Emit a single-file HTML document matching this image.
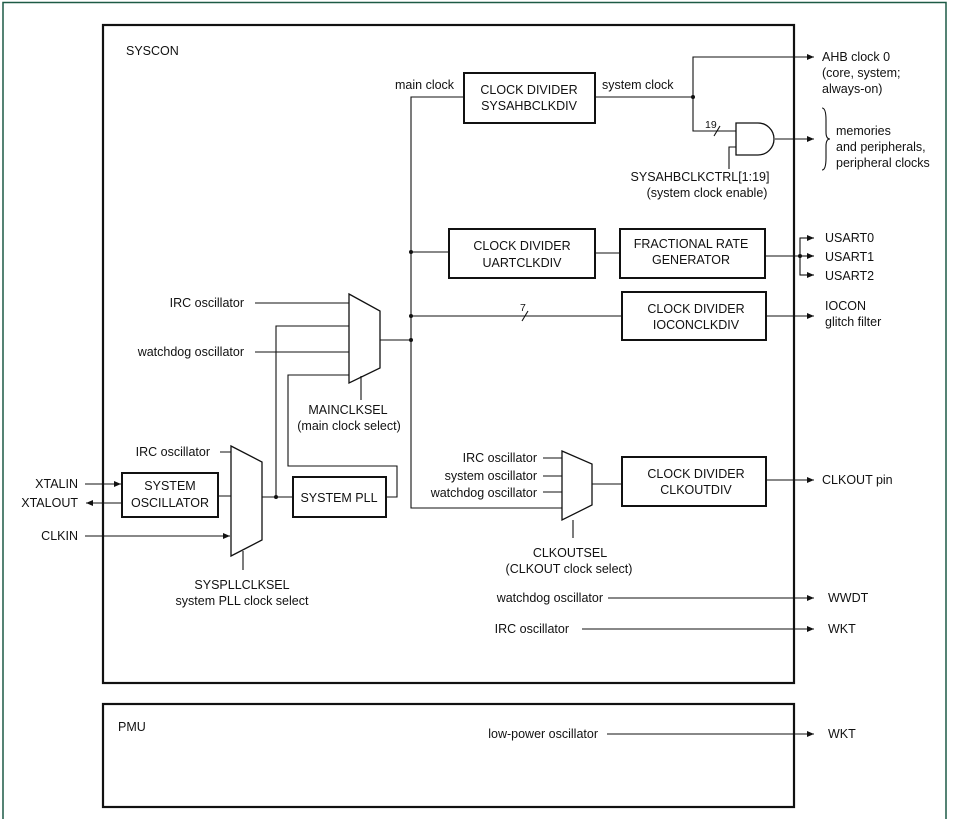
<!DOCTYPE html>
<html><head><meta charset="utf-8"><style>
html,body{margin:0;padding:0;background:#fff;}
svg{display:block;}
text{font-family:"Liberation Sans",Arial,sans-serif;font-size:12.5px;fill:#111;}
</style></head><body>
<svg width="953" height="819" viewBox="0 0 953 819" xmlns="http://www.w3.org/2000/svg">
<defs><marker id="a" markerWidth="8" markerHeight="8" refX="7" refY="3" orient="auto" markerUnits="userSpaceOnUse"><path d="M0,0 L7,3 L0,6 z" fill="#111"/></marker></defs>
<path d="M3,819 V2.5 H946 V819" fill="none" stroke="#1d5a46" stroke-width="1.5"/>
<g fill="none" stroke="#111">
<rect x="103" y="25" width="691" height="658" stroke-width="2.2"/>
<rect x="103" y="704" width="691" height="103" stroke-width="2.2"/>
<g stroke-width="2">
<rect x="464" y="73" width="131" height="50"/>
<rect x="449" y="229" width="146" height="49"/>
<rect x="620" y="229" width="145" height="49"/>
<rect x="622" y="292" width="144" height="48"/>
<rect x="622" y="457" width="144" height="49"/>
<rect x="293" y="477" width="93" height="40"/>
<rect x="122" y="473" width="96" height="44"/>
</g>
<g stroke-width="1.3">
<path d="M349,294 L380,311 L380,368 L349,383 Z"/>
<path d="M231,446 L262,462 L262,540 L231,556 Z"/>
<path d="M562,451 L592,464 L592,505 L562,520 Z"/>
<path d="M736,123 H758 A16,16 0 0 1 758,155 H736 Z"/>
</g>
<g stroke-width="1.1">
<path d="M464,97 H411 V508 H562"/>
<path d="M595,97 H693 V57 H814" marker-end="url(#a)"/>
<path d="M693,97 V131 H736"/>
<path d="M714,136 L720,126"/>
<path d="M775,139 H814" marker-end="url(#a)"/>
<path d="M736,147 H729 V169"/>
<path d="M411,252 H449 M595,253 H620"/>
<path d="M765,256 H800"/>
<path d="M814,238 H800 V275 H814" />
<path d="M800,238 H814" marker-end="url(#a)"/>
<path d="M800,256 H814" marker-end="url(#a)"/>
<path d="M800,275 H814" marker-end="url(#a)"/>
<path d="M411,316 H622"/>
<path d="M522,321 L528,311"/>
<path d="M766,316 H814" marker-end="url(#a)"/>
<path d="M380,340 H411"/>
<path d="M255,303 H349 M255,352 H349"/>
<path d="M349,326 H276 V497"/>
<path d="M349,375 H288 V466 H397 V497 H386"/>
<path d="M361,376 V400"/>
<path d="M220,452 H231 M218,496 H231"/>
<path d="M85,536 H230" marker-end="url(#a)"/>
<path d="M262,497 H293"/>
<path d="M243,551 V570"/>
<path d="M85,484 H121" marker-end="url(#a)"/>
<path d="M122,503 H86" marker-end="url(#a)"/>
<path d="M543,458 H562 M543,476 H562 M543,492 H562"/>
<path d="M592,484 H622"/>
<path d="M573,520 V538"/>
<path d="M766,480 H814" marker-end="url(#a)"/>
<path d="M608,598 H814" marker-end="url(#a)"/>
<path d="M582,629 H814" marker-end="url(#a)"/>
<path d="M607,734 H814" marker-end="url(#a)"/>
<path d="M822,108 Q826,108 826,120 V132 Q826,139 830,139 Q826,139 826,146 V158 Q826,170 822,170"/>
</g>
</g>
<g fill="#111">
<circle cx="693" cy="97" r="2"/><circle cx="411" cy="252" r="2"/><circle cx="411" cy="316" r="2"/><circle cx="411" cy="340" r="2"/><circle cx="276" cy="497" r="2"/><circle cx="800" cy="256" r="2"/>
</g>
<text x="126" y="55">SYSCON</text>
<text x="118" y="731">PMU</text>
<text x="395" y="89">main clock</text>
<text x="602" y="89">system clock</text>
<g text-anchor="middle">
<text x="529" y="94">CLOCK DIVIDER</text><text x="529" y="110">SYSAHBCLKDIV</text>
<text x="522" y="250">CLOCK DIVIDER</text><text x="522" y="267">UARTCLKDIV</text>
<text x="691" y="248">FRACTIONAL RATE</text><text x="691" y="264">GENERATOR</text>
<text x="696" y="313">CLOCK DIVIDER</text><text x="696" y="329">IOCONCLKDIV</text>
<text x="696" y="478">CLOCK DIVIDER</text><text x="696" y="494">CLKOUTDIV</text>
<text x="170" y="490">SYSTEM</text><text x="170" y="507">OSCILLATOR</text>
<text x="339" y="502">SYSTEM  PLL</text>
<text x="700" y="181">SYSAHBCLKCTRL[1:19]</text><text x="707" y="197">(system clock enable)</text>
<text x="348" y="414">MAINCLKSEL</text><text x="349" y="430">(main clock select)</text>
<text x="242" y="589">SYSPLLCLKSEL</text><text x="242" y="605">system PLL clock select</text>
<text x="570" y="557">CLKOUTSEL</text><text x="569" y="573">(CLKOUT clock select)</text>
</g>
<text x="705" y="128" style="font-size:10.5px">19</text>
<text x="520" y="311" style="font-size:10.5px">7</text>
<g text-anchor="end">
<text x="244" y="307">IRC oscillator</text>
<text x="244" y="356">watchdog oscillator</text>
<text x="210" y="456">IRC oscillator</text>
<text x="78" y="488">XTALIN</text>
<text x="78" y="507">XTALOUT</text>
<text x="78" y="540">CLKIN</text>
<text x="537" y="462">IRC oscillator</text>
<text x="537" y="480">system oscillator</text>
<text x="537" y="497">watchdog oscillator</text>
<text x="603" y="602">watchdog oscillator</text>
<text x="569" y="633">IRC oscillator</text>
<text x="598" y="738">low-power oscillator</text>
</g>
<text x="822" y="61">AHB clock 0</text>
<text x="822" y="77">(core, system;</text>
<text x="822" y="93">always-on)</text>
<text x="836" y="135">memories</text>
<text x="836" y="151">and peripherals,</text>
<text x="836" y="167">peripheral clocks</text>
<text x="825" y="242">USART0</text>
<text x="825" y="261">USART1</text>
<text x="825" y="280">USART2</text>
<text x="825" y="310">IOCON</text>
<text x="825" y="326">glitch filter</text>
<text x="822" y="484">CLKOUT pin</text>
<text x="828" y="602">WWDT</text>
<text x="828" y="633">WKT</text>
<text x="828" y="738">WKT</text>
</svg>
</body></html>
